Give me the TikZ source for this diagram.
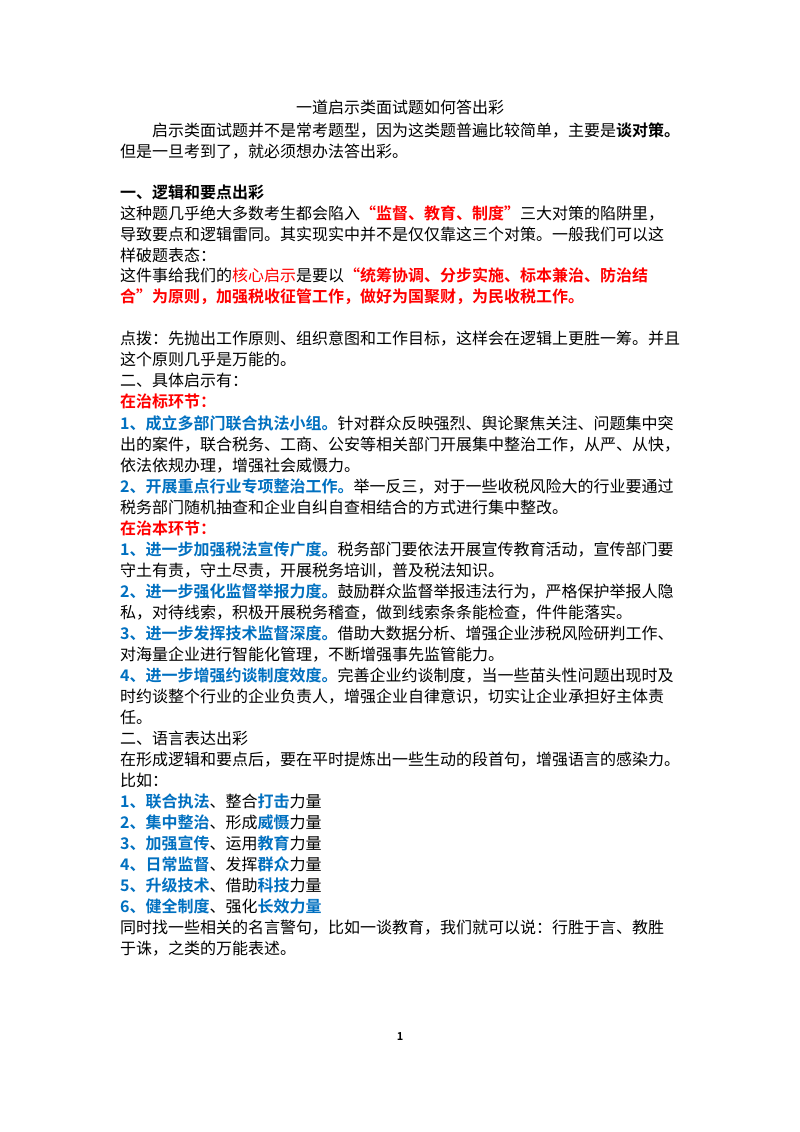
\documentclass[tikz,border=0pt]{standalone}
\usepackage{fontspec}
\setmainfont{Noto Sans CJK SC}
\newfontfamily\cjkb{Noto Sans CJK SC Bold}
\definecolor{rd}{HTML}{FF0000}
\definecolor{bl}{HTML}{0070C0}
\newcommand{\R}[1]{{\cjkb\color{rd}#1}}
\newcommand{\B}[1]{{\cjkb\color{bl}#1}}
\newcommand{\K}[1]{{\cjkb #1}}
\tikzset{ln/.style={anchor=base west,inner sep=0pt,font=\fontsize{16}{18}\selectfont}}
\begin{document}
\begin{tikzpicture}[x=1pt,y=-1pt]
\fill[white] (0,0) rectangle (800,1132);
\useasboundingbox (0,0) rectangle (800,1132);
\node[ln,anchor=base] (t) at (400,113) {一道启示类面试题如何答出彩};
\node[ln] (a1) at (152,136) {启示类面试题并不是常考题型，因为这类题普遍比较简单，主要是\K{谈对策。}};
\node[ln] (a2) at (120,157) {但是一旦考到了，就必须想办法答出彩。};
\node[ln] (h1) at (120,198) {\K{一、逻辑和要点出彩}};
\node[ln] (b1) at (120,219) {这种题几乎绝大多数考生都会陷入\R{“监督、教育、制度”}三大对策的陷阱里，};
\node[ln] (b2) at (120,240) {导致要点和逻辑雷同。其实现实中并不是仅仅靠这三个对策。一般我们可以这};
\node[ln] (b3) at (120,261) {样破题表态：};
\node[ln] (b4) at (120,281) {这件事给我们的{\color{rd}核心启示}是要以\R{“统筹协调、分步实施、标本兼治、防治结}};
\node[ln] (b5) at (120,302) {\R{合”为原则，加强税收征管工作，做好为国聚财，为民收税工作。}};
\node[ln] (c1) at (120,344) {点拨：先抛出工作原则、组织意图和工作目标，这样会在逻辑上更胜一筹。并且};
\node[ln] (c2) at (120,365) {这个原则几乎是万能的。};
\node[ln] (c3) at (120,386) {二、具体启示有：};
\node[ln] (c4) at (120,407) {\R{在治标环节：}};
\node[ln] (d1) at (120,429) {\B{1、成立多部门联合执法小组。}针对群众反映强烈、舆论聚焦关注、问题集中突};
\node[ln] (d2) at (120,450) {出的案件，联合税务、工商、公安等相关部门开展集中整治工作，从严、从快，};
\node[ln] (d3) at (120,471) {依法依规办理，增强社会威慑力。};
\node[ln] (d4) at (120,492) {\B{2、开展重点行业专项整治工作。}举一反三，对于一些收税风险大的行业要通过};
\node[ln] (d5) at (120,513) {税务部门随机抽查和企业自纠自查相结合的方式进行集中整改。};
\node[ln] (e0) at (120,534) {\R{在治本环节：}};
\node[ln] (e1) at (120,555) {\B{1、进一步加强税法宣传广度。}税务部门要依法开展宣传教育活动，宣传部门要};
\node[ln] (e2) at (120,576) {守土有责，守土尽责，开展税务培训，普及税法知识。};
\node[ln] (e3) at (120,597) {\B{2、进一步强化监督举报力度。}鼓励群众监督举报违法行为，严格保护举报人隐};
\node[ln] (e4) at (120,618) {私，对待线索，积极开展税务稽查，做到线索条条能检查，件件能落实。};
\node[ln] (e5) at (120,639) {\B{3、进一步发挥技术监督深度。}借助大数据分析、增强企业涉税风险研判工作、};
\node[ln] (e6) at (120,660) {对海量企业进行智能化管理，不断增强事先监管能力。};
\node[ln] (e7) at (120,681) {\B{4、进一步增强约谈制度效度。}完善企业约谈制度，当一些苗头性问题出现时及};
\node[ln] (e8) at (120,702) {时约谈整个行业的企业负责人，增强企业自律意识，切实让企业承担好主体责};
\node[ln] (e9) at (120,723) {任。};
\node[ln] (f1) at (120,744) {二、语言表达出彩};
\node[ln] (f2) at (120,765) {在形成逻辑和要点后，要在平时提炼出一些生动的段首句，增强语言的感染力。};
\node[ln] (f3) at (120,786) {比如：};
\node[ln] (g1) at (120,807) {\B{1、联合执法}、整合\B{打击}力量};
\node[ln] (g2) at (120,828) {\B{2、集中整治}、形成\B{威慑}力量};
\node[ln] (g3) at (120,849) {\B{3、加强宣传}、运用\B{教育}力量};
\node[ln] (g4) at (120,870) {\B{4、日常监督}、发挥\B{群众}力量};
\node[ln] (g5) at (120,891) {\B{5、升级技术}、借助\B{科技}力量};
\node[ln] (g6) at (120,912) {\B{6、健全制度}、强化\B{长效力量}};
\node[ln] (h2) at (120,933) {同时找一些相关的名言警句，比如一谈教育，我们就可以说：行胜于言、教胜};
\node[ln] (h3) at (120,954) {于诛，之类的万能表述。};
\node[ln,anchor=base,font=\fontsize{11}{13}\selectfont] (pg) at (400,1040) {\K{1}};
\end{tikzpicture}
\end{document}
